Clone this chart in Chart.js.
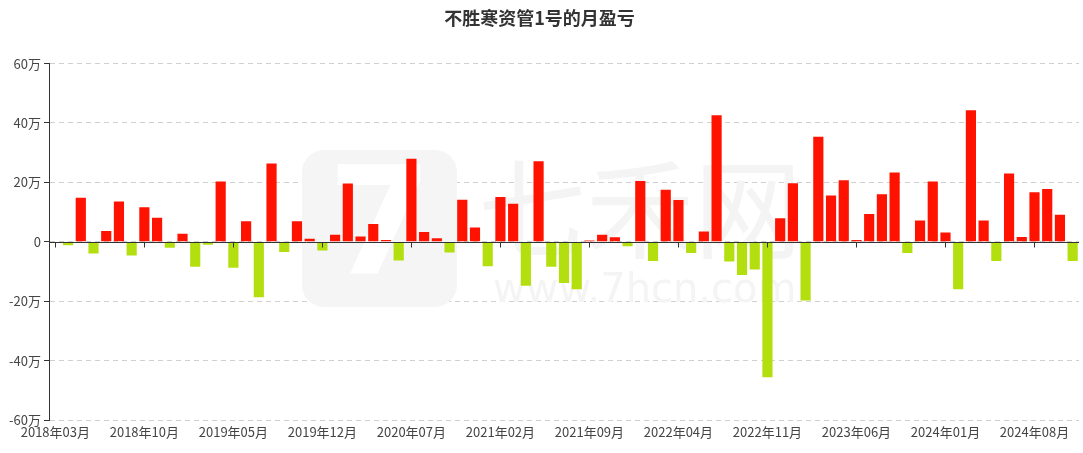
<!DOCTYPE html>
<html>
<head>
<meta charset="utf-8">
<script src="https://cdn.jsdelivr.net/npm/chart.js@4"></script>
<style>
html,body{margin:0;padding:0;background:#fff;}
#wrap{width:1083px;height:453px;}
</style>
</head>
<body>
<div id="wrap"><canvas id="c" width="1083" height="453"></canvas></div>
<script>
const title = '不胜寒资管1号的月盈亏';
const categories = [
'2018年03月','2018年04月','2018年05月','2018年06月','2018年07月','2018年08月','2018年09月','2018年10月','2018年11月','2018年12月',
'2019年01月','2019年02月','2019年03月','2019年04月','2019年05月','2019年06月','2019年07月','2019年08月','2019年09月','2019年10月','2019年11月','2019年12月',
'2020年01月','2020年02月','2020年03月','2020年04月','2020年05月','2020年06月','2020年07月','2020年08月','2020年09月','2020年10月','2020年11月','2020年12月',
'2021年01月','2021年02月','2021年03月','2021年04月','2021年05月','2021年06月','2021年07月','2021年08月','2021年09月','2021年10月','2021年11月','2021年12月',
'2022年01月','2022年02月','2022年03月','2022年04月','2022年05月','2022年06月','2022年07月','2022年08月','2022年09月','2022年10月','2022年11月','2022年12月',
'2023年01月','2023年02月','2023年03月','2023年04月','2023年05月','2023年06月','2023年07月','2023年08月','2023年09月','2023年10月','2023年11月','2023年12月',
'2024年01月','2024年02月','2024年03月','2024年04月','2024年05月','2024年06月','2024年07月','2024年08月','2024年09月','2024年10月','2024年11月'
];
// monthly profit/loss, unit: 万
const values = [
0, -1.2, 14.8, -3.9, 3.6, 13.6, -4.6, 11.6, 8.1, -2.0,
2.7, -8.4, -1.0, 20.3, -8.7, 6.9, -18.7, 26.4, -3.4, 6.9, 1.0, -2.9,
2.4, 19.6, 1.8, 6.0, 0.6, -6.3, 28.0, 3.3, 1.2, -3.6, 14.2, 4.8,
-8.2, 15.1, 12.8, -14.8, 27.1, -8.4, -13.9, -16.0, 0.4, 2.4, 1.5, -1.5,
20.5, -6.5, 17.5, 14.1, -3.8, 3.5, 42.6, -6.6, -11.2, -9.3, -45.6, 7.9,
19.7, -19.8, 35.4, 15.6, 20.7, 0.6, 9.4, 16.0, 23.3, -3.8, 7.2, 20.3,
3.1, -16.0, 44.3, 7.2, -6.5, 23.0, 1.6, 16.7, 17.8, 9.1, -6.5
];
const yTicks = [-60, -40, -20, 0, 20, 40, 60];
const labelEvery = 7;

const RED = '#ff1200';
const GREEN = '#b4df0e';
const FONT = '"Noto Sans CJK SC", "Noto Sans", sans-serif';

const overlay = {
  id: 'overlay',
  beforeDatasetsDraw(chart) {
    const ctx = chart.ctx;
    ctx.save();
    // watermark
    ctx.fillStyle = '#f5f5f5';
    const x0 = 302, y0 = 150, w = 155, h = 157, r = 22;
    ctx.beginPath();
    ctx.moveTo(x0 + r, y0);
    ctx.arcTo(x0 + w, y0, x0 + w, y0 + h, r);
    ctx.arcTo(x0 + w, y0 + h, x0, y0 + h, r);
    ctx.arcTo(x0, y0 + h, x0, y0, r);
    ctx.arcTo(x0, y0, x0 + w, y0, r);
    ctx.closePath();
    ctx.fill();
    ctx.fillStyle = '#ffffff';
    ctx.font = 'bold 150px "DejaVu Sans", sans-serif';
    ctx.textAlign = 'center';
    ctx.textBaseline = 'middle';
    ctx.fillText('7', 380, 235);
    ctx.fillStyle = '#f4f4f4';
    ctx.font = '108px ' + FONT;
    ctx.textAlign = 'left';
    ctx.textBaseline = 'alphabetic';
    ctx.fillText('七禾网', 478, 250);
    ctx.font = '40px "DejaVu Sans", sans-serif';
    ctx.fillText('www.7hcn.com', 493, 302);
    ctx.restore();
  },
  afterDatasetsDraw(chart) {
    const ctx = chart.ctx;
    const xs = chart.scales.x, ys = chart.scales.y;
    const y0 = Math.round(ys.getPixelForValue(0)) + 0.5;
    ctx.save();
    ctx.strokeStyle = '#333';
    ctx.lineWidth = 1;
    ctx.beginPath();
    ctx.moveTo(chart.chartArea.left, y0);
    ctx.lineTo(chart.chartArea.right, y0);
    for (let i = 0; i < categories.length; i += labelEvery) {
      const x = Math.round(xs.getPixelForValue(i)) + 0.5;
      ctx.moveTo(x, y0);
      ctx.lineTo(x, y0 + 5);
    }
    ctx.stroke();
    ctx.restore();
  }
};

new Chart(document.getElementById('c'), {
  type: 'bar',
  data: {
    labels: categories,
    datasets: [{
      data: values,
      backgroundColor: (c) => (c.raw >= 0 ? RED : GREEN),
      borderWidth: 0,
      barPercentage: 0.8,
      categoryPercentage: 1.0
    }]
  },
  options: {
    responsive: false,
    animation: false,
    events: [],
    layout: { padding: { left: 0, right: 4, top: 0, bottom: 0 } },
    plugins: {
      legend: { display: false },
      tooltip: { enabled: false },
      title: {
        display: true,
        text: title,
        color: '#333',
        font: { family: FONT, size: 18, weight: 'bold' },
        padding: { top: 7, bottom: 35 }
      }
    },
    scales: {
      x: {
        type: 'category',
        offset: true,
        grid: { display: false, drawTicks: false },
        border: { display: false },
        ticks: {
          autoSkip: false,
          maxRotation: 0,
          minRotation: 0,
          padding: 4,
          color: '#444',
          font: { family: FONT, size: 13 },
          callback: (v, i) => (i % labelEvery === 0 ? categories[i] : '')
        },
        afterFit: (s) => { s.height = 33; }
      },
      y: {
        min: -60,
        max: 60,
        afterBuildTicks: (s) => { s.ticks = yTicks.map(v => ({ value: v })); },
        grid: {
          color: '#d0d0d0',
          tickColor: '#333',
          tickLength: 5,
          drawTicks: true
        },
        border: { display: true, color: '#333', width: 1, dash: [5, 4] },
        ticks: {
          padding: 3,
          color: '#444',
          font: { family: FONT, size: 13 },
          callback: (v) => (v === 0 ? '0' : v + '万')
        },
        afterFit: (s) => { s.width = 49; }
      }
    }
  },
  plugins: [overlay]
});
</script>
</body>
</html>
